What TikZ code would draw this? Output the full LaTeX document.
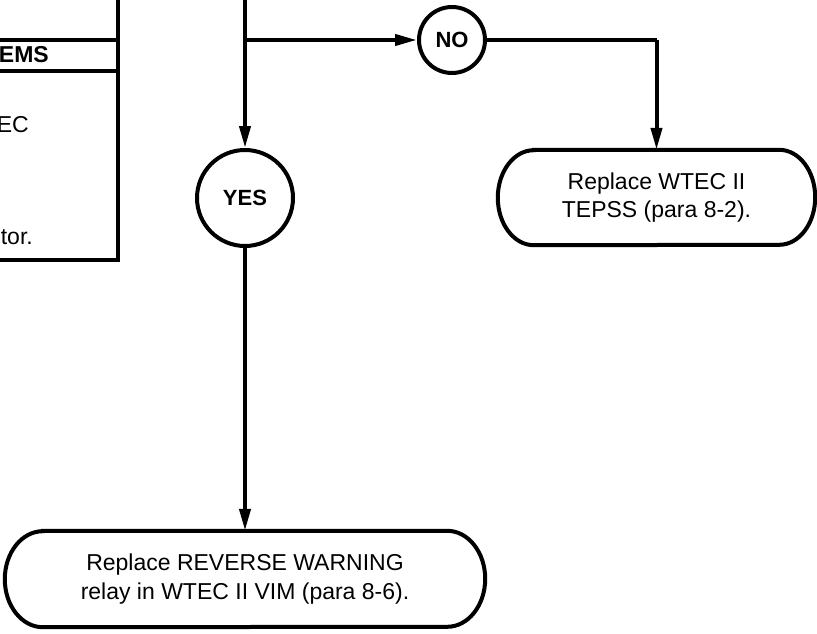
\documentclass[tikz,border=0pt]{standalone}
\usepackage{fontspec}
\setmainfont{Liberation Sans}
\usetikzlibrary{arrows.meta}
\begin{document}
\begin{tikzpicture}[x=1pt,y=-1pt,
  line/.style={line width=4pt},
  arr/.style={line width=4pt,-{Triangle[length=22pt,width=11pt]}},
  decision/.style={circle,draw,line width=4pt,inner sep=0pt,font=\fontsize{22}{26}\selectfont\bfseries},
  action/.style={rectangle,align=center,inner sep=0pt,font=\fontsize{23}{28.5}\selectfont},
  cut/.style={inner sep=0pt,font=\fontsize{23}{28}\selectfont}]
\useasboundingbox (0,0) rectangle (817,634);
\clip (0,0) rectangle (817,634);
% partial box at left
\draw[line] (-30,40) -- (118,40);
\draw[line] (-30,71) -- (118,71);
\draw[line] (118,-10) -- (118,260) -- (-30,260);
\node[cut,anchor=base east] (ems) at (49,63) {\bfseries EMS};
\node[cut,anchor=base east] (ec) at (29,132) {EC};
\node[cut,anchor=base east] (tor) at (33,244) {tor.};
% decisions
\node[decision,minimum size=96pt] (yes) at (245,198) {YES};
\node[decision,minimum size=66pt] (no) at (452,40) {NO};
% actions
\node[action,minimum width=317pt,minimum height=95pt] (tepss) at (656.5,197.5) {Replace WTEC II\\TEPSS (para 8-2).};
\node[action,minimum width=480pt,minimum height=96pt] (relay) at (245,579) {Replace REVERSE WARNING\\relay in WTEC II VIM (para 8-6).};
\draw[line] ([xshift=36pt]tepss.north west) -- ([xshift=-36pt]tepss.north east)
  arc[start angle=90,end angle=-90,x radius=36pt,y radius=47.5pt]
  -- ([xshift=36pt]tepss.south west)
  arc[start angle=270,end angle=90,x radius=36pt,y radius=47.5pt] -- cycle;
\draw[line] ([xshift=38pt]relay.north west) -- ([xshift=-38pt]relay.north east)
  arc[start angle=90,end angle=-90,x radius=38pt,y radius=48pt]
  -- ([xshift=38pt]relay.south west)
  arc[start angle=270,end angle=90,x radius=38pt,y radius=48pt] -- cycle;
% connectors
\coordinate (top) at (245,-10);
\coordinate (branch) at (245,40);
\coordinate (corner) at (656.5,40);
\draw[arr] (top) -- (yes.north);
\draw[arr] (branch) -- (no.west);
\draw[line] (no.east) -- (corner);
\draw[arr] (corner) -- (tepss.north);
\draw[arr] (yes.south) -- (relay.north);
\end{tikzpicture}
\end{document}
